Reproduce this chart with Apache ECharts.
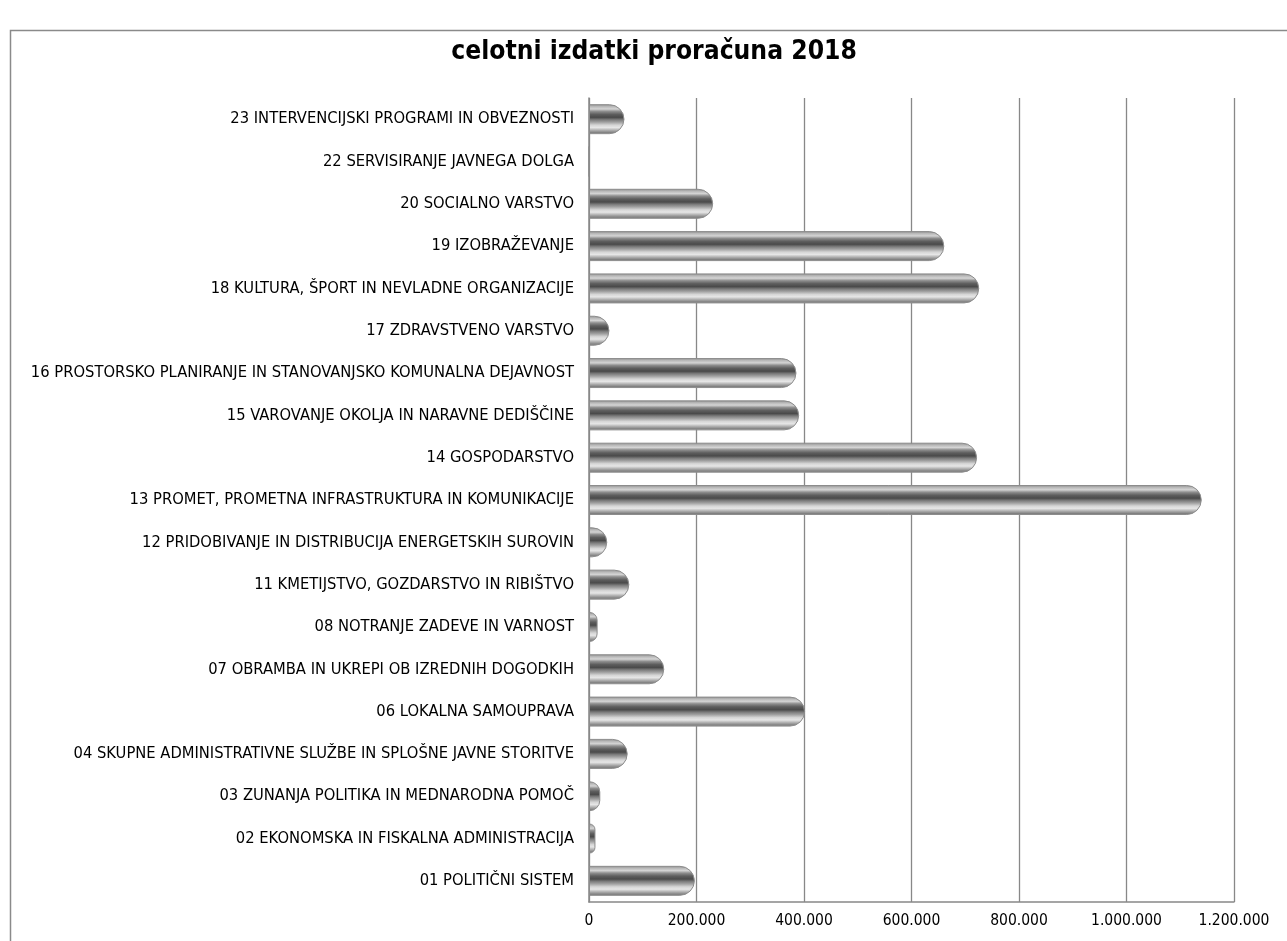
<!DOCTYPE html>
<html>
<head>
<meta charset="utf-8">
<script src="https://cdn.jsdelivr.net/npm/echarts@6/dist/echarts.min.js"></script>
<style>
html,body{margin:0;padding:0;background:#fff;}
#c{width:1287px;height:941px;}
</style>
</head>
<body>
<div id="c"></div>
<script>
var title = 'celotni izdatki proračuna 2018';
var categories = [
  '01 POLITIČNI SISTEM',
  '02 EKONOMSKA IN FISKALNA ADMINISTRACIJA',
  '03 ZUNANJA POLITIKA IN MEDNARODNA POMOČ',
  '04 SKUPNE ADMINISTRATIVNE SLUŽBE IN SPLOŠNE JAVNE STORITVE',
  '06 LOKALNA SAMOUPRAVA',
  '07 OBRAMBA IN UKREPI OB IZREDNIH DOGODKIH',
  '08 NOTRANJE ZADEVE IN VARNOST',
  '11 KMETIJSTVO, GOZDARSTVO IN RIBIŠTVO',
  '12 PRIDOBIVANJE IN DISTRIBUCIJA ENERGETSKIH SUROVIN',
  '13 PROMET, PROMETNA INFRASTRUKTURA IN KOMUNIKACIJE',
  '14 GOSPODARSTVO',
  '15 VAROVANJE OKOLJA IN NARAVNE DEDIŠČINE',
  '16 PROSTORSKO PLANIRANJE IN STANOVANJSKO KOMUNALNA DEJAVNOST',
  '17 ZDRAVSTVENO VARSTVO',
  '18 KULTURA, ŠPORT IN NEVLADNE ORGANIZACIJE',
  '19 IZOBRAŽEVANJE',
  '20 SOCIALNO VARSTVO',
  '22 SERVISIRANJE JAVNEGA DOLGA',
  '23 INTERVENCIJSKI PROGRAMI IN OBVEZNOSTI'
];
var values = [197000, 12000, 21000, 72000, 402000, 140000, 16000, 75000, 34000, 1140000,
              722000, 391000, 386000, 38000, 726000, 661000, 231000, 0, 66000];
var xTicks = [0, 200000, 400000, 600000, 800000, 1000000, 1200000];

function fmt(v){ return String(v).replace(/\B(?=(\d{3})+(?!\d))/g, '.'); }

var FONT = "'DejaVu Sans Condensed', 'DejaVu Sans', sans-serif";
var chart = echarts.init(document.getElementById('c'));
var barGrad = new echarts.graphic.LinearGradient(0, 0, 0, 1, [
  {offset: 0.00, color: '#8a8a8a'},
  {offset: 0.08, color: '#b8b8b8'},
  {offset: 0.16, color: '#d4d4d4'},
  {offset: 0.24, color: '#8e8e8e'},
  {offset: 0.34, color: '#5e5e5e'},
  {offset: 0.44, color: '#4a4a4a'},
  {offset: 0.52, color: '#7c7c7c'},
  {offset: 0.60, color: '#a0a0a0'},
  {offset: 0.70, color: '#d6d6d6'},
  {offset: 0.78, color: '#e6e6e6'},
  {offset: 0.88, color: '#a8a8a8'},
  {offset: 0.95, color: '#808080'},
  {offset: 1.00, color: '#9a9a9a'}
]);
chart.setOption({
  backgroundColor: '#fff',
  animation: false,
  title: {
    text: title, left: 649, top: 34, textAlign: 'center',
    textStyle: {fontFamily: FONT, fontWeight: 'bold', fontSize: 26.2, color: '#000'}
  },
  graphic: [{
    type: 'rect', silent: true,
    shape: {x: 10.5, y: 30.5, width: 1400, height: 1000},
    style: {fill: 'none', stroke: '#8a8a8a', lineWidth: 1.5}
  }],
  grid: {left: 589, right: 53, top: 98, bottom: 39},
  xAxis: {
    type: 'value', min: 0, max: 1200000, interval: 200000,
    axisLine: {show: true, lineStyle: {color: '#888', width: 1.5}},
    axisTick: {show: false},
    splitLine: {show: true, lineStyle: {color: '#888', width: 1.3}},
    axisLabel: {
      margin: 11, color: '#000', fontFamily: FONT, fontSize: 15.5,
      formatter: function(v){ return xTicks.indexOf(v) >= 0 ? fmt(v) : ''; }
    }
  },
  yAxis: {
    type: 'category', data: categories,
    axisLine: {show: true, lineStyle: {color: '#888', width: 1.5}},
    axisTick: {show: false},
    axisLabel: {margin: 15, color: '#000', fontFamily: FONT, fontSize: 16.4}
  },
  series: [{
    type: 'bar', data: values, barWidth: 30,
    itemStyle: {
      color: barGrad, borderColor: '#8c8c8c', borderWidth: 1,
      borderRadius: [0, 15, 15, 0]
    }
  }]
});
</script>
</body>
</html>
